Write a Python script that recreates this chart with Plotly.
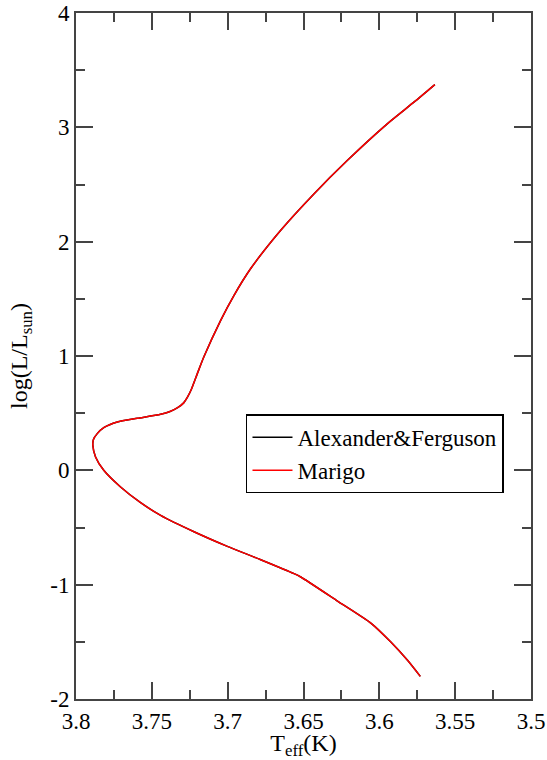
import plotly.graph_objects as go

# Track data (log Teff, log L/Lsun)
teff = [3.573, 3.5814, 3.5924, 3.6056, 3.6276, 3.6518, 3.6562, 3.6782, 3.7002,
        3.7222, 3.7442, 3.7574, 3.7706, 3.7817, 3.7871, 3.7889, 3.7885, 3.786,
        3.7817, 3.7728, 3.7596, 3.7442, 3.738, 3.733, 3.729, 3.7265, 3.7242,
        3.72, 3.7156, 3.7046, 3.6958, 3.6848, 3.665, 3.643, 3.621, 3.5946,
        3.577, 3.5634]
logl = [-1.802, -1.662, -1.502, -1.336, -1.143, -0.933, -0.904, -0.782, -0.665,
        -0.537, -0.394, -0.283, -0.146, 0.0, 0.117, 0.219, 0.27, 0.321,
        0.373, 0.423, 0.455, 0.49, 0.515, 0.548, 0.59, 0.64, 0.70,
        0.846, 0.995, 1.312, 1.531, 1.765, 2.10, 2.42, 2.712, 3.033,
        3.222, 3.374]

x_ticks = [3.8, 3.75, 3.7, 3.65, 3.6, 3.55, 3.5]
y_ticks = [-2, -1, 0, 1, 2, 3, 4]

serif = "Times New Roman, Liberation Serif, serif"

fig = go.Figure()
fig.add_trace(go.Scatter(x=teff, y=logl, mode="lines", name="Alexander&Ferguson",
                         line=dict(color="black", width=1.5, shape="spline", smoothing=0.6)))
fig.add_trace(go.Scatter(x=teff, y=logl, mode="lines", name="Marigo",
                         line=dict(color="red", width=1.5, shape="spline", smoothing=0.6)))

axis_common = dict(
    showline=True, linecolor="#444", linewidth=2, mirror="ticks",
    ticks="inside", ticklen=17, tickwidth=2, tickcolor="#444",
    showgrid=False, zeroline=False, automargin=False,
    tickfont=dict(family=serif, size=23, color="black"),
)

fig.update_layout(
    width=547, height=760,
    font=dict(family=serif, size=23, color="black"),
    margin=dict(l=76, r=16, t=13, b=61),
    plot_bgcolor="white", paper_bgcolor="white",
    xaxis=dict(range=[3.8, 3.5], tickvals=x_ticks, ticktext=[str(v) for v in x_ticks],
               minor=dict(dtick=0.025, tick0=3.5, ticks="inside", ticklen=9, tickwidth=2, tickcolor="#444"),
               title=dict(text="T<sub>eff</sub>(K)", font=dict(family=serif, size=24, color="black"), standoff=4),
               **axis_common),
    yaxis=dict(range=[-2, 4], tickvals=y_ticks, ticktext=[str(v) for v in y_ticks],
               minor=dict(dtick=0.5, tick0=0, ticks="inside", ticklen=9, tickwidth=2, tickcolor="#444"),
               title=dict(text="log(L/L<sub>sun</sub>)", font=dict(family=serif, size=24, color="black"), standoff=16),
               **axis_common),
    legend=dict(x=0.3736, y=0.415, xanchor="left", yanchor="top",
                bordercolor="black", borderwidth=1.5, bgcolor="white",
                font=dict(family=serif, size=23, color="black"),
                itemwidth=40, tracegroupgap=0),
    showlegend=True,
)

fig.write_html("out.html")
